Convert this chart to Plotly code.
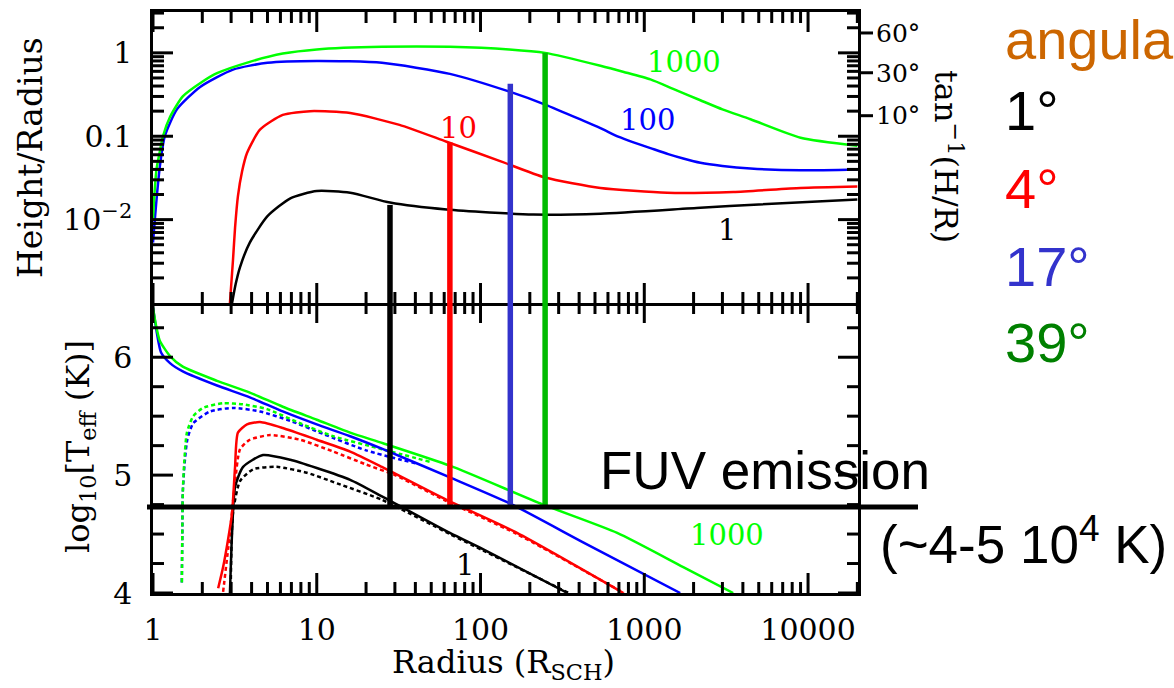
import numpy as np
import plotly.graph_objects as go

# ---------------- data ----------------
rates = ["1", "10", "100", "1000"]
colors = ["#000000", "#ff0000", "#0000ff", "#00ff00"]

# top panel: H/R vs radius (R_SCH)
hr_r_1 = [3.04, 3.2, 3.4, 3.9, 5.0, 6.9, 10, 16, 28, 62, 210, 540, 2200, 5000, 20000]
hr_v_1 = [0.001, 0.0017, 0.0027, 0.0053, 0.011, 0.018, 0.022, 0.021, 0.016, 0.0132, 0.0115, 0.0118, 0.0139, 0.0152, 0.0174]

hr_r_10 = [2.95, 3.0, 3.08, 3.17, 3.3, 3.5, 3.75, 4.5, 6.2, 9.1, 16, 32, 62, 133, 248, 540, 1380, 3500, 9000, 20000]
hr_v_10 = [0.001, 0.0016, 0.0033, 0.008, 0.019, 0.038, 0.063, 0.12, 0.18, 0.2, 0.19, 0.137, 0.086, 0.05, 0.032, 0.024, 0.021, 0.0215, 0.024, 0.025]

hr_r_100 = [1.0, 1.03, 1.06, 1.10, 1.18, 1.40, 1.94, 3.08, 5.0, 10, 25, 65, 152, 248, 420, 540, 700, 850, 1090, 1400, 1730, 2200, 3000, 4450, 9000, 20000]
hr_v_100 = [0.0053, 0.011, 0.021, 0.043, 0.10, 0.21, 0.39, 0.63, 0.76, 0.80, 0.76, 0.56, 0.34, 0.24, 0.155, 0.125, 0.098, 0.085, 0.072, 0.061, 0.054, 0.048, 0.044, 0.041, 0.039, 0.040]

hr_r_1000 = [1.0, 1.02, 1.05, 1.10, 1.15, 1.27, 1.52, 2.0, 2.46, 3.9, 6.2, 10, 25, 65, 150, 248, 540, 750, 1090, 1500, 2200, 3000, 4450, 9000, 20000]
hr_v_1000 = [0.010, 0.02, 0.04, 0.065, 0.10, 0.17, 0.30, 0.45, 0.57, 0.78, 0.98, 1.10, 1.18, 1.18, 1.1, 1.0, 0.70, 0.59, 0.48, 0.37, 0.27, 0.21, 0.16, 0.096, 0.077]

# bottom panel: log10 Teff vs radius, solid models
t_r_1 = [2.95, 3.04, 3.17, 3.55, 4.7, 6.9, 10, 16, 25, 65, 104, 340]
t_v_1 = [4.0, 4.51, 4.90, 5.07, 5.17, 5.13, 5.06, 4.96, 4.82, 4.51, 4.37, 4.0]
t_r_10 = [2.5, 2.68, 2.87, 3.04, 3.17, 3.3, 3.75, 4.5, 6.2, 10, 16, 25, 62, 167, 745]
t_v_10 = [4.04, 4.22, 4.45, 4.68, 5.07, 5.36, 5.43, 5.45, 5.40, 5.30, 5.20, 5.07, 4.79, 4.51, 4.0]
t_r_100 = [1.0, 1.03, 1.12, 1.27, 1.52, 2.46, 3.9, 6.2, 10, 16, 25.4, 65, 156, 423, 1657]
t_v_100 = [6.42, 6.30, 6.04, 5.95, 5.88, 5.76, 5.66, 5.54, 5.43, 5.33, 5.22, 4.98, 4.75, 4.43, 4.0]
t_r_1000 = [1.0, 1.04, 1.1, 1.27, 1.52, 2.46, 3.9, 6.2, 10, 16, 25.4, 65, 241, 683, 1730, 3490]
t_v_1000 = [6.42, 6.28, 6.14, 6.01, 5.92, 5.80, 5.70, 5.58, 5.47, 5.36, 5.27, 5.08, 4.75, 4.51, 4.22, 4.0]

# bottom panel: dotted models
d_r_1 = [2.98, 3.08, 3.4, 4.1, 5.7, 8.7, 13.3, 25, 65, 104, 345]
d_v_1 = [4.0, 4.68, 4.95, 5.05, 5.07, 5.02, 4.93, 4.79, 4.50, 4.36, 4.0]
d_r_10 = [2.68, 2.95, 3.17, 3.4, 3.9, 5.2, 7.9, 12.6, 20, 30, 62, 167, 750]
d_v_10 = [4.01, 4.51, 4.94, 5.22, 5.30, 5.34, 5.30, 5.20, 5.09, 5.0, 4.78, 4.50, 4.0]
d_r_100 = [1.50, 1.51, 1.52, 1.56, 1.62, 1.76, 2.23, 3.08, 4.5, 6.9, 10.9, 20, 40]
d_v_100 = [4.09, 4.5, 4.85, 5.1, 5.30, 5.44, 5.54, 5.57, 5.54, 5.46, 5.35, 5.21, 5.10]
d_r_1000 = [1.50, 1.51, 1.52, 1.55, 1.61, 1.76, 2.02, 2.68, 3.55, 4.97, 7.9, 12.6, 25, 50]
d_v_1000 = [4.09, 4.5, 4.85, 5.1, 5.36, 5.50, 5.57, 5.61, 5.60, 5.56, 5.44, 5.33, 5.22, 5.11]

# thick vertical markers: radius and H/R where they start
mark_r = [28, 65, 152, 248]
mark_hr = [0.015, 0.084, 0.425, 1.0]
mark_colors = ["#000000", "#ff0000", "#3333cc", "#00bb00"]

# FUV emission threshold (log10 T)
fuv_logT = 4.73

# curve label positions (radius, value)
top_lab_r = [3200, 73, 1040, 1750]
top_lab_v = [0.0076, 0.126, 0.158, 0.78]
bot_lab_text = ["1", "1000"]
bot_lab_color = ["#000000", "#00ff00"]
bot_lab_r = [80, 3200]
bot_lab_v = [4.24, 4.49]

# angles on right axis
ang_deg = [60, 30, 10]

# side labels
side_text = ["angular", "1°", "4°", "17°", "39°"]
side_color = ["#cc6600", "#000000", "#ff0000", "#3333cc", "#008000"]

x_ticks = [1, 10, 100, 1000, 10000]
y_top_ticks = [0.01, 0.1, 1]
y_top_ticktext = ["10<sup>−2</sup>", "0.1", "1"]
y_bot_ticks = [4, 5, 6]
y_bot_minor = [4.25, 4.5, 4.75, 5.25, 5.5, 5.75, 6.25]

# ---------------- figure ----------------
W, H = 1174, 688
SERIF = "DejaVu Serif"
SANS = "Liberation Sans"
TICK_W = 3


def px_x(p):
    return p / W


def px_y(p):
    return 1 - p / H


y_top_range = [-3, 0.49]
y_bot_range = [4, 6.46]
x_range = [0, 4.305]

xdom = [px_x(153), px_x(858)]
ydom_top = [px_y(303), px_y(12)]
ydom_bot = [px_y(593), px_y(303)]

# axis units per pixel (from layout geometry)
x_u = (x_range[1] - x_range[0]) / ((xdom[1] - xdom[0]) * W)
yt_u = (y_top_range[1] - y_top_range[0]) / ((ydom_top[1] - ydom_top[0]) * H)
yb_u = (y_bot_range[1] - y_bot_range[0]) / ((ydom_bot[1] - ydom_bot[0]) * H)


def minor_log(lo, hi, vmax=None):
    vals = []
    for d in range(lo, hi + 1):
        for m in range(2, 10):
            v = m * 10.0 ** d
            if vmax is None or v < vmax:
                vals.append(v)
    return vals


x_minor = minor_log(0, 4, 10 ** x_range[1])
y_top_minor = minor_log(-3, 0, 10 ** y_top_range[1])

fig = go.Figure()

top_sets = [(hr_r_1, hr_v_1), (hr_r_10, hr_v_10), (hr_r_100, hr_v_100), (hr_r_1000, hr_v_1000)]
for (r, v), c in zip(top_sets, colors):
    fig.add_trace(go.Scatter(x=r, y=v, mode="lines", xaxis="x", yaxis="y",
                             line=dict(color=c, width=2.5, shape="spline", smoothing=0.6),
                             showlegend=False, hoverinfo="skip"))

dot_sets = [(d_r_1, d_v_1), (d_r_10, d_v_10), (d_r_100, d_v_100), (d_r_1000, d_v_1000)]
for (r, v), c in zip(dot_sets, colors):
    fig.add_trace(go.Scatter(x=r, y=v, mode="lines", xaxis="x2", yaxis="y2",
                             line=dict(color=c, width=2.5, dash="4px,3px", shape="spline", smoothing=0.6),
                             showlegend=False, hoverinfo="skip"))

bot_sets = [(t_r_1, t_v_1), (t_r_10, t_v_10), (t_r_100, t_v_100), (t_r_1000, t_v_1000)]
for (r, v), c in zip(bot_sets, colors):
    fig.add_trace(go.Scatter(x=r, y=v, mode="lines", xaxis="x2", yaxis="y2",
                             line=dict(color=c, width=2.5, shape="spline", smoothing=0.6),
                             showlegend=False, hoverinfo="skip"))

for r, h, c in zip(mark_r, mark_hr, mark_colors):
    fig.add_trace(go.Scatter(x=[r, r], y=[h, 10 ** (y_top_range[0] - 0.1)], mode="lines",
                             xaxis="x", yaxis="y", line=dict(color=c, width=5.5),
                             showlegend=False, hoverinfo="skip"))
    fig.add_trace(go.Scatter(x=[r, r], y=[y_bot_range[1] + 0.1, fuv_logT], mode="lines",
                             xaxis="x2", yaxis="y2", line=dict(color=c, width=5.5),
                             showlegend=False, hoverinfo="skip"))


# ---- tick marks drawn as line segments in axis units ----
def tick_trace(xs, ys, xa, ya):
    fig.add_trace(go.Scatter(x=xs, y=ys, mode="lines", xaxis=xa, yaxis=ya,
                             line=dict(color="black", width=TICK_W), showlegend=False,
                             hoverinfo="skip"))


def x_edge_ticks(vals, length, yr, yunit, ylog, xa, ya):
    xs, ys = [], []
    for v in vals:
        for p, q in ((yr[0], yr[0] + length * yunit), (yr[1], yr[1] - length * yunit)):
            if ylog:
                p, q = 10 ** p, 10 ** q
            xs += [v, v, None]
            ys += [p, q, None]
    tick_trace(xs, ys, xa, ya)


def y_edge_ticks(vals, length, xa, ya):
    xs, ys = [], []
    for v in vals:
        for p, q in ((x_range[0], x_range[0] + length * x_u), (x_range[1], x_range[1] - length * x_u)):
            xs += [10 ** p, 10 ** q, None]
            ys += [v, v, None]
    tick_trace(xs, ys, xa, ya)


x_edge_ticks(x_ticks, 20, y_top_range, yt_u, True, "x", "y")
x_edge_ticks(x_minor, 11, y_top_range, yt_u, True, "x", "y")
x_edge_ticks(x_ticks, 20, y_bot_range, yb_u, False, "x2", "y2")
x_edge_ticks(x_minor, 11, y_bot_range, yb_u, False, "x2", "y2")
y_edge_ticks(y_top_ticks, 20, "x", "y")
y_edge_ticks(y_top_minor, 11, "x", "y")
y_edge_ticks(y_bot_ticks, 20, "x2", "y2")
y_edge_ticks(y_bot_minor, 11, "x2", "y2")

# angular ticks: small strip subplot just right of the top panel
ang_vals = [float(np.tan(np.radians(a))) for a in ang_deg]
axs, ays = [], []
for v in ang_vals:
    axs += [0, 1, None]
    ays += [v, v, None]
fig.add_trace(go.Scatter(x=axs, y=ays, mode="lines", xaxis="x5", yaxis="y",
                         line=dict(color="black", width=TICK_W), showlegend=False, hoverinfo="skip"))

# angular-axis helper trace so the overlay label axis is drawn
fig.add_trace(go.Scatter(x=[10], y=[0.1], xaxis="x", yaxis="y3", mode="markers",
                         marker=dict(opacity=0), showlegend=False, hoverinfo="skip"))

base = dict(showline=True, linecolor="black", linewidth=2.5, ticks="",
            showgrid=False, zeroline=False, automargin=False, tickmode="array")
tickfont = dict(family=SERIF, size=30, color="black")

fig.update_layout(
    width=W, height=H, margin=dict(l=0, r=0, t=0, b=0, pad=0, autoexpand=False),
    paper_bgcolor="white", plot_bgcolor="rgba(0,0,0,0)",
    xaxis=dict(domain=xdom, anchor="y", type="log", range=x_range, mirror=True,
               tickvals=x_ticks, showticklabels=False, **base),
    xaxis2=dict(domain=xdom, anchor="y2", type="log", range=x_range, mirror=False,
                tickvals=x_ticks, ticktext=[str(t) for t in x_ticks], tickfont=tickfont,
                ticklabelstandoff=8, **base),
    xaxis5=dict(domain=[xdom[1], xdom[1] + 15 / W], anchor="y", range=[0, 1], visible=False,
                automargin=False),
    yaxis=dict(domain=ydom_top, anchor="x", type="log", range=y_top_range, mirror=True,
               tickvals=y_top_ticks, ticktext=y_top_ticktext, tickfont=tickfont,
               ticklabelstandoff=12, **base),
    yaxis2=dict(domain=ydom_bot, anchor="x2", range=y_bot_range, mirror=True,
                tickvals=y_bot_ticks, ticktext=[str(t) for t in y_bot_ticks], tickfont=tickfont,
                ticklabelstandoff=12, **base),
    yaxis3=dict(overlaying="y", anchor="x", side="right", type="log", range=y_top_range,
                tickmode="array", tickvals=ang_vals,
                ticktext=[f"{a}°" for a in ang_deg],
                tickfont=dict(family=SERIF, size=25, color="black"),
                ticks="", showline=False, showgrid=False, zeroline=False,
                ticklabelstandoff=17, automargin=False),
)

# FUV threshold line
fig.add_shape(type="line", xref="paper", yref="y2", x0=px_x(147), x1=px_x(918),
              y0=fuv_logT, y1=fuv_logT, line=dict(color="black", width=5))

ann = []
for t, c, r, v in zip(rates, colors, top_lab_r, top_lab_v):
    ann.append(dict(xref="x", yref="y", x=np.log10(r), y=np.log10(v), text=t, showarrow=False,
                    xanchor="center", yanchor="middle",
                    font=dict(family=SERIF, size=29, color=c)))
for t, c, r, v in zip(bot_lab_text, bot_lab_color, bot_lab_r, bot_lab_v):
    ann.append(dict(xref="x2", yref="y2", x=np.log10(r), y=v, text=t, showarrow=False,
                    xanchor="center", yanchor="middle",
                    font=dict(family=SERIF, size=29, color=c)))

ann.append(dict(xref="paper", yref="paper", x=px_x(31), y=px_y(158), text="Height/Radius",
                xanchor="center", yanchor="middle",
                textangle=-90, showarrow=False, font=dict(family=SERIF, size=33, color="black")))
ann.append(dict(xref="paper", yref="paper", x=px_x(80), y=px_y(447),
                text="log<sub>10</sub>[T<sub>eff</sub> (K)]", xanchor="center", yanchor="middle",
                textangle=-90, showarrow=False, font=dict(family=SERIF, size=32, color="black")))
ann.append(dict(xref="paper", yref="paper", x=px_x(503), y=px_y(664),
                text="Radius (R<sub>SCH</sub>)", xanchor="center", yanchor="middle",
                showarrow=False, font=dict(family=SERIF, size=32, color="black")))
ann.append(dict(xref="paper", yref="paper", x=px_x(948), y=px_y(156),
                text="tan<sup>−1</sup>(H/R)", xanchor="center", yanchor="middle",
                textangle=90, showarrow=False, font=dict(family=SERIF, size=32, color="black")))

side_y = [40, 111, 188, 266, 342]
for t, c, yy in zip(side_text, side_color, side_y):
    ann.append(dict(xref="paper", yref="paper", x=px_x(1003), y=px_y(yy), text=t,
                    xanchor="left", yanchor="middle", showarrow=False,
                    font=dict(family=SANS, size=56, color=c)))

ann.append(dict(xref="paper", yref="paper", x=px_x(598), y=px_y(470), text="FUV emission",
                xanchor="left", yanchor="middle", showarrow=False,
                font=dict(family=SANS, size=53, color="black")))
ann.append(dict(xref="paper", yref="paper", x=px_x(878), y=px_y(540),
                text="(~4-5 10<sup>4</sup> K)",
                xanchor="left", yanchor="middle", showarrow=False,
                font=dict(family=SANS, size=53, color="black")))

fig.update_layout(annotations=ann)
fig.write_html("out.html")
